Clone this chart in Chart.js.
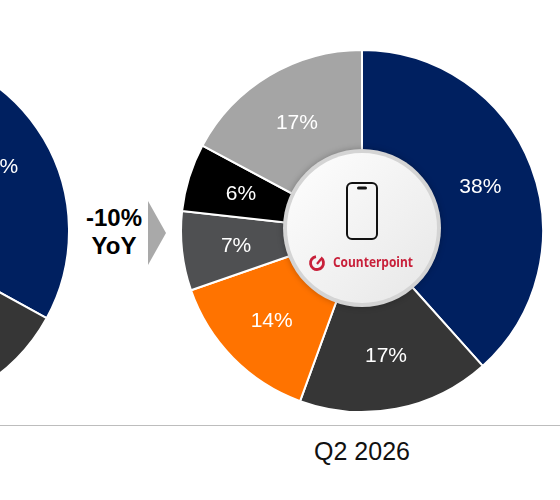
<!DOCTYPE html>
<html>
<head>
<meta charset="utf-8">
<script src="https://cdn.jsdelivr.net/npm/chart.js@4.4.1/dist/chart.umd.min.js"></script>
<style>
  html, body { margin: 0; padding: 0; background: #fff; }
  body { width: 560px; height: 500px; position: relative; overflow: hidden; font-family: "Liberation Sans", Arial, sans-serif; }
  .pie { position: absolute; width: 364px; height: 364px; }
  #prev { left: -294px; top: 49px; }
  #curr { left: 180px; top: 49px; }
  #yoy { position: absolute; left: 74px; top: 204px; width: 80px; text-align: center; font-weight: bold; font-size: 24px; line-height: 28px; color: #000; }
  #arrow { position: absolute; left: 148px; top: 201px; width: 18px; height: 64px; background: #a9a9a9; clip-path: polygon(0 0, 100% 50%, 0 100%); }
  #axis { position: absolute; left: 0; top: 425px; width: 560px; height: 0; border-top: 1.5px solid #bdbdbd; }
  #period { position: absolute; left: 262px; top: 437px; width: 200px; text-align: center; font-size: 25px; color: #111; }
</style>
</head>
<body>
<div class="pie" id="prev"><canvas id="prevChart"></canvas></div>
<div id="yoy">-10%<br>YoY</div>
<div id="arrow"></div>
<div class="pie" id="curr"><canvas id="currChart"></canvas></div>
<div id="axis"></div>
<div id="period"></div>

<script>
const brands = ['Brand A', 'Brand B', 'Brand C', 'Brand D', 'Brand E', 'Others'];
const colors = ['#002060', '#363636', '#ff7300', '#4f5052', '#000000', '#a5a5a5'];
const prevShare = [33, 18, 14, 8, 7, 20];
const currShare = [38, 17, 14, 7, 6, 17];
const currLabel = 'Q2 2026';

document.getElementById('period').textContent = currLabel;

// white % labels at ~70% of the radius
const sliceLabels = {
  id: 'sliceLabels',
  afterDatasetsDraw(chart) {
    const ctx = chart.ctx;
    const values = chart.data.datasets[0].data;
    ctx.save();
    ctx.fillStyle = '#fff';
    ctx.font = '21px "Liberation Sans", Arial, sans-serif';
    ctx.textAlign = 'center';
    ctx.textBaseline = 'middle';
    chart.getDatasetMeta(0).data.forEach((arc, i) => {
      const { x, y, startAngle, endAngle, outerRadius } = arc.getProps(['x', 'y', 'startAngle', 'endAngle', 'outerRadius'], true);
      const mid = (startAngle + endAngle) / 2;
      const r = outerRadius * 0.7;
      ctx.fillText(values[i] + '%', x + Math.cos(mid) * r, y + Math.sin(mid) * r + 1);
    });
    ctx.restore();
  }
};

// white badge in the middle with phone icon and logo
const centerBadge = {
  id: 'centerBadge',
  afterDraw(chart) {
    const arc = chart.getDatasetMeta(0).data[0];
    if (!arc) return;
    const cx = arc.x, cy = arc.y - 3;
    const R = 79;
    const ctx = chart.ctx;
    ctx.save();
    ctx.shadowColor = 'rgba(0,0,0,0.25)';
    ctx.shadowBlur = 6;
    ctx.beginPath();
    ctx.arc(cx, cy, R, 0, Math.PI * 2);
    ctx.fillStyle = '#d4d4d4';
    ctx.fill();
    ctx.shadowColor = 'transparent';
    const g = ctx.createLinearGradient(cx - R, cy - R, cx + R, cy + R);
    g.addColorStop(0, '#ffffff');
    g.addColorStop(1, '#e6e6e6');
    ctx.beginPath();
    ctx.arc(cx, cy, R - 4, 0, Math.PI * 2);
    ctx.fillStyle = g;
    ctx.fill();

    // phone outline
    ctx.strokeStyle = '#111';
    ctx.lineWidth = 2;
    const pw = 30, ph = 56, px = cx - pw / 2, py = cy - 45;
    ctx.beginPath();
    ctx.roundRect(px, py, pw, ph, 5);
    ctx.stroke();
    ctx.beginPath();
    ctx.roundRect(cx - 5, py + 3.5, 10, 3, 1.5);
    ctx.fillStyle = '#111';
    ctx.fill();

    // logo
    const red = '#c8203a';
    const ly = cy + 35;
    ctx.strokeStyle = red;
    ctx.lineWidth = 2.8;
    ctx.beginPath();
    ctx.arc(cx - 45, ly, 6.5, -Math.PI * 0.3, Math.PI * 1.45);
    ctx.stroke();
    ctx.lineWidth = 2.2;
    ctx.beginPath();
    ctx.moveTo(cx - 45, ly + 1);
    ctx.lineTo(cx - 41, ly - 4);
    ctx.stroke();
    ctx.fillStyle = red;
    ctx.font = 'bold 15px "Open Sans", sans-serif';
    ctx.textAlign = 'left';
    ctx.textBaseline = 'middle';
    const w = ctx.measureText('Counterpoint').width;
    ctx.translate(cx - 29, ly);
    ctx.scale(80 / w, 1);
    ctx.fillText('Counterpoint', 0, 0);
    ctx.restore();
  }
};

function makePie(id, values, plugins) {
  return new Chart(document.getElementById(id), {
    type: 'pie',
    data: {
      labels: brands,
      datasets: [{
        data: values,
        backgroundColor: colors,
        borderColor: '#ffffff',
        borderWidth: 2
      }]
    },
    options: {
      responsive: true,
      maintainAspectRatio: false,
      animation: false,
      layout: { padding: 0 },
      plugins: {
        legend: { display: false },
        tooltip: { enabled: false }
      }
    },
    plugins: plugins
  });
}

makePie('prevChart', prevShare, [sliceLabels]);
makePie('currChart', currShare, [sliceLabels, centerBadge]);
</script>
</body>
</html>
